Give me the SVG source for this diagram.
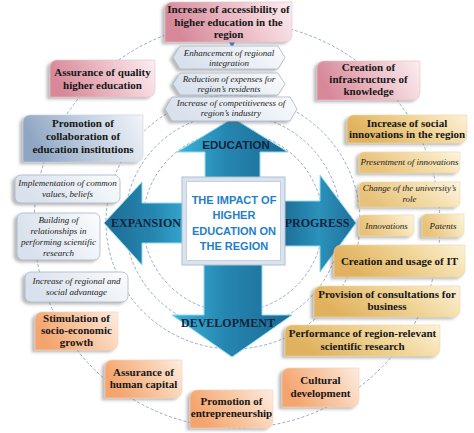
<svg xmlns="http://www.w3.org/2000/svg" width="474" height="433" viewBox="0 0 474 433">
<defs>
<linearGradient id="gPink" x1="0" y1="0.2" x2="1" y2="0"><stop offset="0" stop-color="#d7899a"/><stop offset="0.55" stop-color="#eec2cb"/><stop offset="1" stop-color="#fbeef1"/></linearGradient>
<linearGradient id="gPro" x1="0" y1="0.2" x2="1" y2="0"><stop offset="0" stop-color="#8ea6c4"/><stop offset="0.55" stop-color="#c8d4e3"/><stop offset="1" stop-color="#f2f5f9"/></linearGradient>
<linearGradient id="gGold" x1="0" y1="0.3" x2="1" y2="0"><stop offset="0" stop-color="#e0b25e"/><stop offset="0.55" stop-color="#f1d699"/><stop offset="1" stop-color="#fcf1d8"/></linearGradient>
<linearGradient id="gGoldL" x1="0" y1="0.3" x2="1" y2="0"><stop offset="0" stop-color="#e8c27a"/><stop offset="0.6" stop-color="#f5e0b0"/><stop offset="1" stop-color="#fdf5e2"/></linearGradient>
<linearGradient id="gOr" x1="0" y1="0.3" x2="1" y2="0"><stop offset="0" stop-color="#f4a56e"/><stop offset="0.55" stop-color="#f9cba9"/><stop offset="1" stop-color="#fdece0"/></linearGradient>
<linearGradient id="gLt" x1="0" y1="0.3" x2="1" y2="0"><stop offset="0" stop-color="#d9e1ec"/><stop offset="1" stop-color="#fbfcfd"/></linearGradient>
<linearGradient id="gArrA" x1="0" y1="0" x2="1" y2="0"><stop offset="0" stop-color="#3db3da"/><stop offset="0.45" stop-color="#2586b0"/><stop offset="1" stop-color="#1c6a93"/></linearGradient>
<linearGradient id="gArrB" x1="0" y1="0" x2="1" y2="0"><stop offset="0" stop-color="#1d6b94"/><stop offset="0.6" stop-color="#2586b0"/><stop offset="1" stop-color="#35a6cf"/></linearGradient>
<linearGradient id="gArrC" x1="0" y1="0" x2="1" y2="0"><stop offset="0" stop-color="#1e6d96"/><stop offset="0.5" stop-color="#2a92bb"/><stop offset="1" stop-color="#1f7099"/></linearGradient>
<filter id="sh" x="-20%" y="-30%" width="140%" height="160%"><feDropShadow dx="-3" dy="2" stdDeviation="1.5" flood-color="#666" flood-opacity="0.45"/></filter>
<marker id="m" markerWidth="6" markerHeight="6" refX="5" refY="3" orient="auto" markerUnits="userSpaceOnUse"><path d="M0,0 L6,3 L0,6 Z" fill="#4a7fd0"/></marker>
</defs>
<style>
.b{font-family:"Liberation Serif","Times New Roman",serif;font-weight:bold;font-size:11px;fill:#161616;text-anchor:middle}
.i{font-family:"Liberation Serif","Times New Roman",serif;font-style:italic;font-size:9px;fill:#222;text-anchor:middle}
.al{font-family:"Liberation Serif","Times New Roman",serif;font-weight:bold;font-size:12px;fill:#13233d;text-anchor:middle}
.ed{font-family:"Liberation Sans",Arial,sans-serif;font-weight:bold;font-size:11.5px;fill:#13233d;text-anchor:middle}
.ct{font-family:"Liberation Sans",Arial,sans-serif;font-weight:bold;font-size:11px;fill:#1f80c8;text-anchor:middle}
.dc{fill:none;stroke:#8f9fc4;stroke-width:0.9;stroke-dasharray:3 2}
.pk{fill:url(#gPink);stroke:#e9c3cb;stroke-width:0.6;filter:url(#sh)}
.pr{fill:url(#gPro);stroke:#c9d3df;stroke-width:0.6;filter:url(#sh)}
.gd{fill:url(#gGold);stroke:#efd9a8;stroke-width:0.6;filter:url(#sh)}
.gl{fill:url(#gGoldL);stroke:#efd9a8;stroke-width:0.6;filter:url(#sh)}
.or{fill:url(#gOr);stroke:#f6d2b8;stroke-width:0.6;filter:url(#sh)}
.lt{fill:url(#gLt);stroke:#a9b5c6;stroke-width:0.8;filter:url(#sh);stroke-linejoin:round}
.ar{stroke:#8fdcf2;stroke-width:1;stroke-linejoin:miter}
</style>
<rect width="474" height="433" fill="#ffffff"/>
<g id="connectors">
<circle class="dc" cx="237" cy="225" r="203"/>
<circle class="dc" cx="233" cy="222" r="127"/>
<circle class="dc" cx="233" cy="222" r="108"/>
<circle class="dc" cx="233" cy="222" r="90"/>
<line x1="232" y1="41" x2="232" y2="47" stroke="#4a7fd0" stroke-width="1" marker-end="url(#m)"/>
</g>
<g id="arrows">
<g id="arrow-education"><path class="ar" fill="url(#gArrA)" d="M233,118 L288,152 L260,152 L260,180 L205,180 L205,152 L177,152 Z"/><text class="ed" x="236" y="149">EDUCATION</text></g>
<g id="arrow-expansion"><path class="ar" fill="url(#gArrB)" d="M104,223 L142,182 L142,203 L185,203 L185,243 L142,243 L142,265 Z"/><text class="al" x="146" y="227">EXPANSION</text></g>
<g id="arrow-progress"><path class="ar" fill="url(#gArrC)" d="M356,223 L320,175 L320,201 L282,201 L282,246 L320,246 L320,272 Z"/><text class="al" x="317" y="227">PROGRESS</text></g>
<g id="arrow-development"><path class="ar" fill="url(#gArrA)" d="M232,357 L292,315 L262,315 L262,263 L204,263 L204,315 L172,315 Z"/><text class="al" x="228" y="327">DEVELOPMENT</text></g>
</g>
<g id="center">
<rect x="182" y="177" width="103" height="88" fill="#d9e3ee" stroke="#aebfd2" stroke-width="1"/>
<rect x="186.5" y="181.5" width="94" height="79" fill="#ffffff" stroke="#c5d1de" stroke-width="1"/>
<text class="ct" x="234" y="204">THE IMPACT OF</text>
<text class="ct" x="234" y="219.3">HIGHER</text>
<text class="ct" x="234" y="234.6">EDUCATION ON</text>
<text class="ct" x="234" y="250">THE REGION</text>
</g>
<g id="n1"><path class="pk" d="M172,2 H292 V35 A7 7 0 0 1 285,42 H165 V9 A7 7 0 0 1 172,2 Z"/><text class="b" x="228.5" y="13">Increase of accessibility of</text><text class="b" x="228.5" y="25.5">higher education in the</text><text class="b" x="228.5" y="38">region</text></g>
<g id="n2"><path class="pk" d="M57,60 H155 V90 A7 7 0 0 1 148,97 H50 V67 A7 7 0 0 1 57,60 Z"/><text class="b" x="102.5" y="76">Assurance of quality</text><text class="b" x="102.5" y="89">higher education</text></g>
<g id="n3"><path class="pk" d="M324,61 H420 V93 A7 7 0 0 1 413,100 H317 V68 A7 7 0 0 1 324,61 Z"/><text class="b" x="368.5" y="71">Creation of</text><text class="b" x="368.5" y="83">infrastructure of</text><text class="b" x="368.5" y="95">knowledge</text></g>
<g id="n4"><path class="pr" d="M30,115 H143 V155 A7 7 0 0 1 136,162 H23 V122 A7 7 0 0 1 30,115 Z"/><text class="b" x="83" y="127">Promotion of</text><text class="b" x="83" y="140">collaboration of</text><text class="b" x="83" y="153">education institutions</text></g>
<g id="n5"><rect class="lt" x="15" y="175" width="105" height="28" rx="6"/><text class="i" x="67.5" y="186">Implementation of common</text><text class="i" x="67.5" y="196.5">values, beliefs</text></g>
<g id="n6"><rect class="lt" x="17" y="213" width="83" height="47" rx="6"/><text class="i" x="58.5" y="222.5">Building of</text><text class="i" x="58.5" y="233.5">relationships in</text><text class="i" x="58.5" y="244.5">performing scientific</text><text class="i" x="58.5" y="255.5">research</text></g>
<g id="n7"><rect class="lt" x="25" y="272" width="103" height="30" rx="6"/><text class="i" x="76.5" y="284">Increase of regional and</text><text class="i" x="76.5" y="295">social advantage</text></g>
<g id="n8"><path class="lt" d="M180,46 H278 L285,57.5 L278,69 H180 L173,57.5 Z"/><text class="i" x="229" y="56">Enhancement of regional</text><text class="i" x="229" y="66">integration</text></g>
<g id="n9"><path class="lt" d="M180,73 H278 L285,84 L278,95 H180 L173,84 Z"/><text class="i" x="229" y="82">Reduction of expenses for</text><text class="i" x="229" y="92">region’s residents</text></g>
<g id="n10"><path class="lt" d="M172,97 H290 L297,109 L290,121 H172 L165,109 Z"/><text class="i" x="231" y="106">Increase of competitiveness of</text><text class="i" x="231" y="116">region’s industry</text></g>
<g id="n11"><path class="or" d="M42,312 H118 V343 A7 7 0 0 1 111,350 H35 V319 A7 7 0 0 1 42,312 Z"/><text class="b" x="76.5" y="322">Stimulation of</text><text class="b" x="76.5" y="334">socio-economic</text><text class="b" x="76.5" y="345.5">growth</text></g>
<g id="n12"><path class="or" d="M112,360 H182 V391 A7 7 0 0 1 175,398 H105 V367 A7 7 0 0 1 112,360 Z"/><text class="b" x="143.5" y="375.5">Assurance of</text><text class="b" x="143.5" y="388">human capital</text></g>
<g id="n13"><path class="or" d="M197,390 H273 V421 A7 7 0 0 1 266,428 H190 V397 A7 7 0 0 1 197,390 Z"/><text class="b" x="231.5" y="404.5">Promotion of</text><text class="b" x="231.5" y="417">entrepreneurship</text></g>
<g id="n14"><path class="or" d="M289,368 H359 V400 A7 7 0 0 1 352,407 H282 V375 A7 7 0 0 1 289,368 Z"/><text class="b" x="320.5" y="384">Cultural</text><text class="b" x="320.5" y="397">development</text></g>
<g id="n15"><path class="gd" d="M292,325 H440 V349 A7 7 0 0 1 433,356 H285 V332 A7 7 0 0 1 292,325 Z"/><text class="b" x="362.5" y="337">Performance of region-relevant</text><text class="b" x="362.5" y="349.5">scientific research</text></g>
<g id="n16"><path class="gd" d="M321,286 H460 V310 A7 7 0 0 1 453,317 H314 V293 A7 7 0 0 1 321,286 Z"/><text class="b" x="387" y="297.5">Provision of consultations for</text><text class="b" x="387" y="310">business</text></g>
<g id="n17"><path class="gd" d="M341,245 H465 V270 A7 7 0 0 1 458,277 H334 V252 A7 7 0 0 1 341,245 Z"/><text class="b" x="399.5" y="265">Creation and usage of IT</text></g>
<g id="n18"><path class="gl" d="M364,215 H414 V231 A5 5 0 0 1 409,236 H359 V220 A5 5 0 0 1 364,215 Z"/><text class="i" x="386.5" y="228.5">Innovations</text></g>
<g id="n19"><path class="gl" d="M427,214 H464 V232 A5 5 0 0 1 459,237 H422 V219 A5 5 0 0 1 427,214 Z"/><text class="i" x="443" y="228.5">Patents</text></g>
<g id="n20"><path class="gl" d="M364,182 H460 V202 A5 5 0 0 1 455,207 H359 V187 A5 5 0 0 1 364,182 Z"/><text class="i" x="409.5" y="191">Change of the university’s</text><text class="i" x="409.5" y="201.5">role</text></g>
<g id="n21"><path class="gl" d="M364,152 H460 V168 A5 5 0 0 1 455,173 H359 V157 A5 5 0 0 1 364,152 Z"/><text class="i" x="409.5" y="165">Presentment of innovations</text></g>
<g id="n22"><path class="gd" d="M354,115 H467 V136 A7 7 0 0 1 460,143 H347 V122 A7 7 0 0 1 354,115 Z"/><text class="b" x="407" y="126.5">Increase of social</text><text class="b" x="407" y="138">innovations in the region</text></g>
</svg>
